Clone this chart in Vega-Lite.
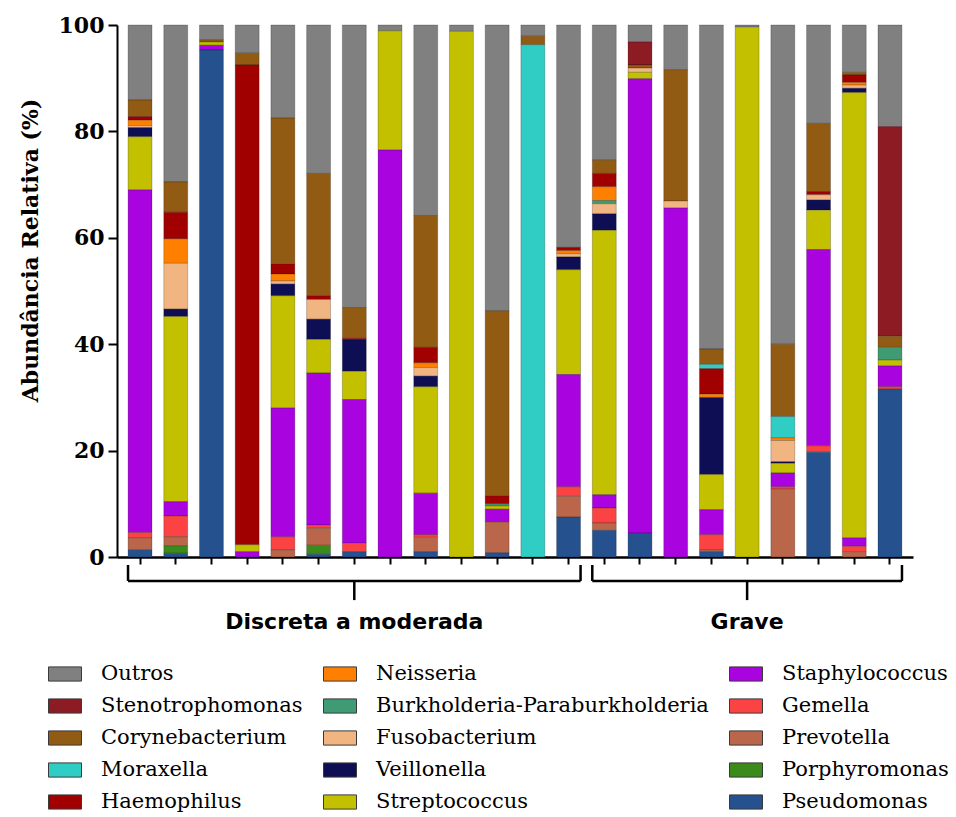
{
  "$schema": "https://vega.github.io/schema/vega-lite/v6.json",
  "autosize": {"type": "none"},
  "padding": {"left": 117, "top": 25, "right": 43, "bottom": 260},
  "width": 796,
  "height": 532,
  "background": "white",
  "config": {
    "view": {"stroke": null},
    "axis": {"grid": false, "domainColor": "#000000", "tickColor": "#000000", "labelColor": "#000000", "titleColor": "#000000"}
  },
  "datasets": {
    "abundancia": [
      {"amostra": "D1", "taxon": "Outros", "valor": 14.1},
      {"amostra": "D1", "taxon": "Corynebacterium", "valor": 3.1},
      {"amostra": "D1", "taxon": "Haemophilus", "valor": 0.7},
      {"amostra": "D1", "taxon": "Neisseria", "valor": 1.0},
      {"amostra": "D1", "taxon": "Fusobacterium", "valor": 0.4},
      {"amostra": "D1", "taxon": "Veillonella", "valor": 1.7},
      {"amostra": "D1", "taxon": "Streptococcus", "valor": 10.0},
      {"amostra": "D1", "taxon": "Staphylococcus", "valor": 64.4},
      {"amostra": "D1", "taxon": "Gemella", "valor": 1.0},
      {"amostra": "D1", "taxon": "Prevotella", "valor": 2.3},
      {"amostra": "D1", "taxon": "Pseudomonas", "valor": 1.3},

      {"amostra": "D2", "taxon": "Outros", "valor": 29.5},
      {"amostra": "D2", "taxon": "Corynebacterium", "valor": 5.7},
      {"amostra": "D2", "taxon": "Haemophilus", "valor": 5.0},
      {"amostra": "D2", "taxon": "Neisseria", "valor": 4.6},
      {"amostra": "D2", "taxon": "Fusobacterium", "valor": 8.6},
      {"amostra": "D2", "taxon": "Veillonella", "valor": 1.4},
      {"amostra": "D2", "taxon": "Streptococcus", "valor": 34.8},
      {"amostra": "D2", "taxon": "Staphylococcus", "valor": 2.7},
      {"amostra": "D2", "taxon": "Gemella", "valor": 3.9},
      {"amostra": "D2", "taxon": "Prevotella", "valor": 1.7},
      {"amostra": "D2", "taxon": "Porphyromonas", "valor": 1.4},
      {"amostra": "D2", "taxon": "Pseudomonas", "valor": 0.7},

      {"amostra": "D3", "taxon": "Outros", "valor": 2.8},
      {"amostra": "D3", "taxon": "Corynebacterium", "valor": 0.4},
      {"amostra": "D3", "taxon": "Streptococcus", "valor": 0.6},
      {"amostra": "D3", "taxon": "Staphylococcus", "valor": 0.9},
      {"amostra": "D3", "taxon": "Pseudomonas", "valor": 95.3},

      {"amostra": "D4", "taxon": "Outros", "valor": 5.3},
      {"amostra": "D4", "taxon": "Corynebacterium", "valor": 2.2},
      {"amostra": "D4", "taxon": "Haemophilus", "valor": 90.2},
      {"amostra": "D4", "taxon": "Streptococcus", "valor": 1.3},
      {"amostra": "D4", "taxon": "Staphylococcus", "valor": 1.0},

      {"amostra": "D5", "taxon": "Outros", "valor": 17.5},
      {"amostra": "D5", "taxon": "Corynebacterium", "valor": 27.4},
      {"amostra": "D5", "taxon": "Haemophilus", "valor": 1.9},
      {"amostra": "D5", "taxon": "Neisseria", "valor": 1.3},
      {"amostra": "D5", "taxon": "Fusobacterium", "valor": 0.6},
      {"amostra": "D5", "taxon": "Veillonella", "valor": 2.2},
      {"amostra": "D5", "taxon": "Streptococcus", "valor": 21.1},
      {"amostra": "D5", "taxon": "Staphylococcus", "valor": 24.2},
      {"amostra": "D5", "taxon": "Gemella", "valor": 2.5},
      {"amostra": "D5", "taxon": "Prevotella", "valor": 1.3},

      {"amostra": "D6", "taxon": "Outros", "valor": 27.9},
      {"amostra": "D6", "taxon": "Corynebacterium", "valor": 23.0},
      {"amostra": "D6", "taxon": "Haemophilus", "valor": 0.7},
      {"amostra": "D6", "taxon": "Fusobacterium", "valor": 3.7},
      {"amostra": "D6", "taxon": "Veillonella", "valor": 3.8},
      {"amostra": "D6", "taxon": "Streptococcus", "valor": 6.3},
      {"amostra": "D6", "taxon": "Staphylococcus", "valor": 28.6},
      {"amostra": "D6", "taxon": "Gemella", "valor": 0.6},
      {"amostra": "D6", "taxon": "Prevotella", "valor": 3.2},
      {"amostra": "D6", "taxon": "Porphyromonas", "valor": 1.7},
      {"amostra": "D6", "taxon": "Pseudomonas", "valor": 0.5},

      {"amostra": "D7", "taxon": "Outros", "valor": 53.1},
      {"amostra": "D7", "taxon": "Corynebacterium", "valor": 5.8},
      {"amostra": "D7", "taxon": "Haemophilus", "valor": 0.3},
      {"amostra": "D7", "taxon": "Veillonella", "valor": 5.9},
      {"amostra": "D7", "taxon": "Streptococcus", "valor": 5.3},
      {"amostra": "D7", "taxon": "Staphylococcus", "valor": 27.0},
      {"amostra": "D7", "taxon": "Gemella", "valor": 1.6},
      {"amostra": "D7", "taxon": "Pseudomonas", "valor": 1.0},

      {"amostra": "D8", "taxon": "Outros", "valor": 1.1},
      {"amostra": "D8", "taxon": "Streptococcus", "valor": 22.4},
      {"amostra": "D8", "taxon": "Staphylococcus", "valor": 76.5},

      {"amostra": "D9", "taxon": "Outros", "valor": 35.8},
      {"amostra": "D9", "taxon": "Corynebacterium", "valor": 24.8},
      {"amostra": "D9", "taxon": "Haemophilus", "valor": 2.9},
      {"amostra": "D9", "taxon": "Neisseria", "valor": 0.9},
      {"amostra": "D9", "taxon": "Fusobacterium", "valor": 1.6},
      {"amostra": "D9", "taxon": "Veillonella", "valor": 2.0},
      {"amostra": "D9", "taxon": "Streptococcus", "valor": 20.0},
      {"amostra": "D9", "taxon": "Staphylococcus", "valor": 7.8},
      {"amostra": "D9", "taxon": "Gemella", "valor": 0.5},
      {"amostra": "D9", "taxon": "Prevotella", "valor": 2.7},
      {"amostra": "D9", "taxon": "Pseudomonas", "valor": 1.0},

      {"amostra": "D10", "taxon": "Outros", "valor": 1.2},
      {"amostra": "D10", "taxon": "Streptococcus", "valor": 98.8},

      {"amostra": "D11", "taxon": "Outros", "valor": 53.7},
      {"amostra": "D11", "taxon": "Corynebacterium", "valor": 34.8},
      {"amostra": "D11", "taxon": "Haemophilus", "valor": 1.5},
      {"amostra": "D11", "taxon": "Burkholderia-Paraburkholderia", "valor": 0.4},
      {"amostra": "D11", "taxon": "Streptococcus", "valor": 0.6},
      {"amostra": "D11", "taxon": "Staphylococcus", "valor": 2.4},
      {"amostra": "D11", "taxon": "Prevotella", "valor": 5.8},
      {"amostra": "D11", "taxon": "Pseudomonas", "valor": 0.8},

      {"amostra": "D12", "taxon": "Outros", "valor": 2.1},
      {"amostra": "D12", "taxon": "Corynebacterium", "valor": 1.6},
      {"amostra": "D12", "taxon": "Moraxella", "valor": 96.3},

      {"amostra": "D13", "taxon": "Outros", "valor": 41.8},
      {"amostra": "D13", "taxon": "Haemophilus", "valor": 0.6},
      {"amostra": "D13", "taxon": "Neisseria", "valor": 0.6},
      {"amostra": "D13", "taxon": "Fusobacterium", "valor": 0.6},
      {"amostra": "D13", "taxon": "Veillonella", "valor": 2.4},
      {"amostra": "D13", "taxon": "Streptococcus", "valor": 19.7},
      {"amostra": "D13", "taxon": "Staphylococcus", "valor": 21.1},
      {"amostra": "D13", "taxon": "Gemella", "valor": 1.8},
      {"amostra": "D13", "taxon": "Prevotella", "valor": 3.9},
      {"amostra": "D13", "taxon": "Pseudomonas", "valor": 7.5},

      {"amostra": "G1", "taxon": "Outros", "valor": 25.4},
      {"amostra": "G1", "taxon": "Corynebacterium", "valor": 2.5},
      {"amostra": "G1", "taxon": "Haemophilus", "valor": 2.5},
      {"amostra": "G1", "taxon": "Neisseria", "valor": 2.6},
      {"amostra": "G1", "taxon": "Burkholderia-Paraburkholderia", "valor": 0.6},
      {"amostra": "G1", "taxon": "Fusobacterium", "valor": 1.9},
      {"amostra": "G1", "taxon": "Veillonella", "valor": 3.1},
      {"amostra": "G1", "taxon": "Streptococcus", "valor": 49.7},
      {"amostra": "G1", "taxon": "Staphylococcus", "valor": 2.5},
      {"amostra": "G1", "taxon": "Gemella", "valor": 2.8},
      {"amostra": "G1", "taxon": "Prevotella", "valor": 1.4},
      {"amostra": "G1", "taxon": "Pseudomonas", "valor": 5.0},

      {"amostra": "G2", "taxon": "Outros", "valor": 3.2},
      {"amostra": "G2", "taxon": "Stenotrophomonas", "valor": 4.3},
      {"amostra": "G2", "taxon": "Corynebacterium", "valor": 0.6},
      {"amostra": "G2", "taxon": "Fusobacterium", "valor": 0.8},
      {"amostra": "G2", "taxon": "Streptococcus", "valor": 1.2},
      {"amostra": "G2", "taxon": "Staphylococcus", "valor": 85.4},
      {"amostra": "G2", "taxon": "Pseudomonas", "valor": 4.5},

      {"amostra": "G3", "taxon": "Outros", "valor": 8.4},
      {"amostra": "G3", "taxon": "Corynebacterium", "valor": 24.7},
      {"amostra": "G3", "taxon": "Fusobacterium", "valor": 1.3},
      {"amostra": "G3", "taxon": "Staphylococcus", "valor": 65.6},

      {"amostra": "G4", "taxon": "Outros", "valor": 60.9},
      {"amostra": "G4", "taxon": "Corynebacterium", "valor": 2.9},
      {"amostra": "G4", "taxon": "Moraxella", "valor": 0.8},
      {"amostra": "G4", "taxon": "Haemophilus", "valor": 4.8},
      {"amostra": "G4", "taxon": "Neisseria", "valor": 0.6},
      {"amostra": "G4", "taxon": "Veillonella", "valor": 14.5},
      {"amostra": "G4", "taxon": "Streptococcus", "valor": 6.6},
      {"amostra": "G4", "taxon": "Staphylococcus", "valor": 4.7},
      {"amostra": "G4", "taxon": "Gemella", "valor": 2.9},
      {"amostra": "G4", "taxon": "Prevotella", "valor": 0.3},
      {"amostra": "G4", "taxon": "Pseudomonas", "valor": 1.0},

      {"amostra": "G5", "taxon": "Outros", "valor": 0.4},
      {"amostra": "G5", "taxon": "Streptococcus", "valor": 99.6},

      {"amostra": "G6", "taxon": "Outros", "valor": 60.0},
      {"amostra": "G6", "taxon": "Corynebacterium", "valor": 13.6},
      {"amostra": "G6", "taxon": "Moraxella", "valor": 4.0},
      {"amostra": "G6", "taxon": "Neisseria", "valor": 0.5},
      {"amostra": "G6", "taxon": "Fusobacterium", "valor": 4.0},
      {"amostra": "G6", "taxon": "Veillonella", "valor": 0.3},
      {"amostra": "G6", "taxon": "Streptococcus", "valor": 1.8},
      {"amostra": "G6", "taxon": "Staphylococcus", "valor": 2.6},
      {"amostra": "G6", "taxon": "Gemella", "valor": 0.4},
      {"amostra": "G6", "taxon": "Prevotella", "valor": 12.8},

      {"amostra": "G7", "taxon": "Outros", "valor": 18.5},
      {"amostra": "G7", "taxon": "Corynebacterium", "valor": 12.8},
      {"amostra": "G7", "taxon": "Haemophilus", "valor": 0.6},
      {"amostra": "G7", "taxon": "Fusobacterium", "valor": 1.0},
      {"amostra": "G7", "taxon": "Veillonella", "valor": 1.9},
      {"amostra": "G7", "taxon": "Streptococcus", "valor": 7.4},
      {"amostra": "G7", "taxon": "Staphylococcus", "valor": 36.9},
      {"amostra": "G7", "taxon": "Gemella", "valor": 1.2},
      {"amostra": "G7", "taxon": "Pseudomonas", "valor": 19.7},

      {"amostra": "G8", "taxon": "Outros", "valor": 8.9},
      {"amostra": "G8", "taxon": "Corynebacterium", "valor": 0.5},
      {"amostra": "G8", "taxon": "Haemophilus", "valor": 1.4},
      {"amostra": "G8", "taxon": "Neisseria", "valor": 0.5},
      {"amostra": "G8", "taxon": "Fusobacterium", "valor": 0.6},
      {"amostra": "G8", "taxon": "Veillonella", "valor": 0.8},
      {"amostra": "G8", "taxon": "Streptococcus", "valor": 83.7},
      {"amostra": "G8", "taxon": "Staphylococcus", "valor": 1.6},
      {"amostra": "G8", "taxon": "Gemella", "valor": 1.0},
      {"amostra": "G8", "taxon": "Prevotella", "valor": 1.0},

      {"amostra": "G9", "taxon": "Outros", "valor": 19.1},
      {"amostra": "G9", "taxon": "Stenotrophomonas", "valor": 39.4},
      {"amostra": "G9", "taxon": "Corynebacterium", "valor": 2.1},
      {"amostra": "G9", "taxon": "Burkholderia-Paraburkholderia", "valor": 2.4},
      {"amostra": "G9", "taxon": "Streptococcus", "valor": 1.1},
      {"amostra": "G9", "taxon": "Staphylococcus", "valor": 3.9},
      {"amostra": "G9", "taxon": "Gemella", "valor": 0.4},
      {"amostra": "G9", "taxon": "Pseudomonas", "valor": 31.6}
    ],
    "grupos": [
      {"grupo": "Discreta a moderada", "inicio": "D1", "fim": "D13", "meio": "D7"},
      {"grupo": "Grave", "inicio": "G1", "fim": "G9", "meio": "G5"}
    ]
  },
  "layer": [
    {
      "data": {"name": "abundancia"},
      "transform": [
        {
          "calculate": "indexof(['Pseudomonas','Porphyromonas','Prevotella','Gemella','Staphylococcus','Streptococcus','Veillonella','Fusobacterium','Burkholderia-Paraburkholderia','Neisseria','Haemophilus','Moraxella','Corynebacterium','Stenotrophomonas','Outros'], datum.taxon)",
          "as": "ordem"
        }
      ],
      "mark": {"type": "bar", "stroke": "#000000", "strokeOpacity": 0.22, "strokeWidth": 1},
      "encoding": {
        "x": {
          "field": "amostra",
          "type": "nominal",
          "title": null,
          "scale": {
            "domain": ["D1","D2","D3","D4","D5","D6","D7","D8","D9","D10","D11","D12","D13","G1","G2","G3","G4","G5","G6","G7","G8","G9"],
            "paddingInner": 0.33,
            "paddingOuter": 0.31
          },
          "axis": {"labels": false, "ticks": true, "tickSize": 7, "tickWidth": 2, "domainWidth": 2.5, "title": null}
        },
        "y": {
          "field": "valor",
          "type": "quantitative",
          "stack": "zero",
          "title": "Abundância Relativa (%)",
          "scale": {"domain": [0, 100], "nice": false},
          "axis": {
            "values": [0, 20, 40, 60, 80, 100],
            "tickSize": 9,
            "tickWidth": 2,
            "domainWidth": 2,
            "labelFont": "DejaVu Serif",
            "labelFontWeight": "bold",
            "labelFontSize": 22,
            "labelPadding": 4,
            "titleFont": "DejaVu Serif",
            "titleFontWeight": "bold",
            "titleFontSize": 22,
            "titleAngle": -90,
            "titleX": -87,
            "titleY": 225,
            "titleAlign": "center",
            "titleBaseline": "middle"
          }
        },
        "order": {"field": "ordem", "type": "quantitative", "sort": "ascending"},
        "color": {
          "field": "taxon",
          "type": "nominal",
          "scale": {
            "domain": ["Outros","Stenotrophomonas","Corynebacterium","Moraxella","Haemophilus","Neisseria","Burkholderia-Paraburkholderia","Fusobacterium","Veillonella","Streptococcus","Staphylococcus","Gemella","Prevotella","Porphyromonas","Pseudomonas"],
            "range": ["#808080","#8c1b24","#925b14","#30cdc4","#a10000","#ff8000","#3e9b73","#f0b581","#0e0e55","#c3c000","#a904e0","#fb4343","#b9664a","#3b8a1c","#25518f"]
          },
          "legend": {
            "title": null,
            "orient": "none",
            "legendX": -69,
            "legendY": 632,
            "columns": 3,
            "columnPadding": 18,
            "rowPadding": 5,
            "values": ["Outros","Stenotrophomonas","Corynebacterium","Moraxella","Haemophilus","Neisseria","Burkholderia-Paraburkholderia","Fusobacterium","Veillonella","Streptococcus","Staphylococcus","Gemella","Prevotella","Porphyromonas","Pseudomonas"],
            "symbolType": "M-1,-0.43H1V0.43H-1Z",
            "symbolSize": 1089,
            "symbolStrokeColor": "#3a3a3a",
            "symbolStrokeWidth": 1,
            "symbolOpacity": 1,
            "labelFont": "DejaVu Serif",
            "labelFontSize": 21,
            "labelColor": "#000000",
            "labelOffset": 19,
            "labelLimit": 500
          }
        }
      }
    },
    {
      "data": {"name": "grupos"},
      "mark": {"type": "rule", "color": "#000000", "strokeWidth": 2.5, "xOffset": -12, "x2Offset": 12},
      "encoding": {
        "x": {"field": "inicio", "type": "nominal", "title": null},
        "x2": {"field": "fim"},
        "y": {"datum": -4.5}
      }
    },
    {
      "data": {"name": "grupos"},
      "mark": {"type": "rule", "color": "#000000", "strokeWidth": 2.5, "xOffset": -12},
      "encoding": {
        "x": {"field": "inicio", "type": "nominal", "title": null},
        "y": {"datum": -1.5},
        "y2": {"datum": -4.5}
      }
    },
    {
      "data": {"name": "grupos"},
      "mark": {"type": "rule", "color": "#000000", "strokeWidth": 2.5, "xOffset": 12},
      "encoding": {
        "x": {"field": "fim", "type": "nominal", "title": null},
        "y": {"datum": -1.5},
        "y2": {"datum": -4.5}
      }
    },
    {
      "data": {"name": "grupos"},
      "mark": {"type": "rule", "color": "#000000", "strokeWidth": 2.5},
      "encoding": {
        "x": {"field": "meio", "type": "nominal", "title": null},
        "y": {"datum": -4.5},
        "y2": {"datum": -8.1}
      }
    },
    {
      "data": {"name": "grupos"},
      "mark": {"type": "text", "font": "DejaVu Sans", "fontWeight": "bold", "fontSize": 22, "color": "#000000", "baseline": "middle", "align": "center"},
      "encoding": {
        "x": {"field": "meio", "type": "nominal", "title": null},
        "y": {"datum": -12.2},
        "text": {"field": "grupo"}
      }
    }
  ]
}
